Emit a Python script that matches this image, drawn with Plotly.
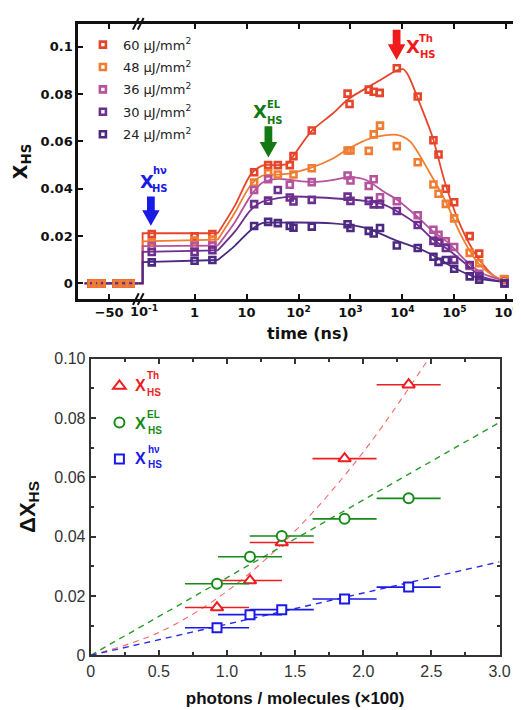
import math
import plotly.graph_objects as go

W, H = 521, 710


def PX(x):
    return x / W


def PY(y):
    return 1 - y / H


# ---------------- top panel data ----------------
series_names = ["60 μJ/mm<sup>2</sup>", "48 μJ/mm<sup>2</sup>", "36 μJ/mm<sup>2</sup>",
                "30 μJ/mm<sup>2</sup>", "24 μJ/mm<sup>2</sup>"]
series_colors = ["#e5452b", "#f07d32", "#b5539c", "#6b2f8e", "#4c2a82"]

t_neg = [-80, -72, -63, -37, -25, -13]
xhs_neg = [0, 0, 0, 0, 0, 0]

t60 = [0.15, 1, 2.2, 14, 26, 40, 68, 80, 180, 880, 960, 2250, 2800, 3650, 7800,
       19700, 39500, 49500, 68500, 99000, 197000, 300000, 920000]
x60 = [0.0209, 0.0199, 0.0209, 0.047, 0.050, 0.050, 0.050, 0.0538, 0.0646, 0.0802,
       0.0758, 0.0819, 0.081, 0.0805, 0.0909, 0.079, 0.0605, 0.0545, 0.040, 0.0343,
       0.020, 0.0126, 0.0016]

t48 = [0.15, 1, 2.2, 14, 26, 40, 80, 180, 880, 1000, 2250, 2800, 3700, 7800, 19700,
       39500, 49500, 68500, 99000, 197000, 300000, 900000]
x48 = [0.0174, 0.0181, 0.0185, 0.0426, 0.0466, 0.046, 0.046, 0.0487, 0.0562, 0.0562,
       0.056, 0.063, 0.0667, 0.058, 0.0512, 0.0418, 0.0379, 0.0336, 0.0275, 0.0129,
       0.0085, 0.0019]

t36 = [0.15, 1, 2.2, 14, 26, 68, 180, 880, 1000, 2250, 2800, 3700, 7800, 19700, 39500,
       49500, 68500, 99000, 197000, 300000, 920000]
x36 = [0.0158, 0.016, 0.016, 0.0395, 0.044, 0.0417, 0.0428, 0.0456, 0.0435, 0.0412,
       0.044, 0.0364, 0.0347, 0.0288, 0.0227, 0.0205, 0.0178, 0.0154, 0.0074, 0.0041,
       0.0003]

t30 = [0.15, 1, 2.2, 14, 26, 40, 68, 80, 180, 880, 1000, 2250, 2800, 3700, 7800, 19700,
       39500, 49500, 68500, 99000, 197000, 300000, 920000]
x30 = [0.0133, 0.0133, 0.014, 0.0335, 0.035, 0.0395, 0.0363, 0.0346, 0.0353, 0.0367,
       0.0349, 0.0349, 0.0334, 0.0334, 0.0306, 0.0247, 0.018, 0.0172, 0.0150, 0.0100,
       0.0078, 0.0030, 0.0]

t24 = [0.15, 1, 2.2, 14, 26, 40, 68, 80, 180, 880, 1000, 2250, 2800, 3700, 7800, 19700,
       39500, 49500, 68500, 99000, 197000, 300000, 920000]
x24 = [0.0089, 0.0096, 0.0099, 0.0243, 0.026, 0.0255, 0.0243, 0.0235, 0.024, 0.025,
       0.0234, 0.0222, 0.0211, 0.0234, 0.016, 0.015, 0.0113, 0.0091, 0.0099, 0.0062,
       0.003, 0.0016, 0.0]

# fitted curves
fit_neg_t = [-92, 0]
fit_neg_v = [0, 0]
fit_step_t = [0.082, 0.1, 0.1, 2.8]
step60 = [0, 0, 0.0212, 0.0212]
step48 = [0, 0, 0.0178, 0.0185]
step36 = [0, 0, 0.0158, 0.016]
step30 = [0, 0, 0.0133, 0.014]
step24 = [0, 0, 0.0090, 0.0099]

fit60_t = [2.8, 6, 12, 20, 40, 60, 80, 180, 450, 930, 3400, 7860, 10400, 12900, 21800,
           37800, 68000, 137000, 286000, 590000, 1.0e6]
fit60_v = [0.0212, 0.033, 0.046, 0.0498, 0.050, 0.0505, 0.054, 0.0645, 0.0717, 0.078,
           0.0854, 0.090, 0.0905, 0.088, 0.0758, 0.062, 0.0416, 0.0235, 0.0107, 0.003, 0.0008]
fit48_t = [2.8, 6, 12, 20, 40, 70, 180, 450, 930, 2500, 7860, 14000, 33000, 68000,
           137000, 286000, 590000, 1.0e6]
fit48_v = [0.0185, 0.030, 0.0415, 0.0455, 0.046, 0.0465, 0.049, 0.0527, 0.057, 0.0614,
           0.0628, 0.060, 0.047, 0.0346, 0.020, 0.0086, 0.003, 0.0008]
fit36_t = [2.8, 6, 12, 20, 40, 70, 180, 450, 930, 2000, 4400, 7860, 18900, 37800, 78700,
           160000, 327000, 937000]
fit36_v = [0.016, 0.026, 0.037, 0.0425, 0.0442, 0.0437, 0.0428, 0.0437, 0.0449, 0.0437,
           0.0387, 0.0354, 0.0284, 0.0222, 0.0169, 0.0099, 0.0045, 0.001]
fit30_t = [2.8, 6, 12, 20, 40, 70, 450, 1860, 4400, 7860, 18900, 37800, 78700, 160000,
           327000, 937000]
fit30_v = [0.014, 0.022, 0.031, 0.0345, 0.036, 0.0367, 0.036, 0.0349, 0.0333, 0.0305,
           0.025, 0.0188, 0.014, 0.0085, 0.003, 0.0006]
fit24_t = [2.8, 6, 12, 20, 40, 450, 1860, 7860, 18900, 37800, 78700, 160000, 327000, 937000]
fit24_v = [0.0099, 0.016, 0.0225, 0.0255, 0.0257, 0.0254, 0.0236, 0.018, 0.0151, 0.012,
           0.0078, 0.0044, 0.0019, 0.0006]

top_ytick_vals = [0, 0.02, 0.04, 0.06, 0.08, 0.1]
top_ytick_text = ["0", "0.02", "0.04", "0.06", "0.08", "0.1"]
neg_tick_vals = [-50]
neg_tick_text = ["−50"]
log_tick_vals = [1, 10, 100, 1000, 10000, 100000, 1000000]
log_tick_text = ["1", "10", "10<sup>2</sup>", "10<sup>3</sup>", "10<sup>4</sup>",
                 "10<sup>5</sup>", "10<sup>6</sup>"]

# ---------------- bottom panel data ----------------
photons = [0.927, 1.169, 1.402, 1.863, 2.333]
photons_err = [0.235, 0.235, 0.235, 0.235, 0.235]
dx_th = [0.0161, 0.0252, 0.038, 0.0663, 0.0912]
dx_el = [0.0241, 0.0332, 0.0402, 0.046, 0.0529]
dx_hv = [0.0093, 0.0137, 0.0154, 0.019, 0.023]

fit_th_x = [0, 0.5, 1.0, 1.5, 2.0, 2.48]
fit_th_y = [0, 0.0077, 0.0216, 0.0419, 0.0685, 0.1]
fit_el_x = [0, 3.0]
fit_el_y = [0, 0.0785]
fit_hv_x = [0, 3.0]
fit_hv_y = [0, 0.0315]

bot_xtick_vals = [0, 0.5, 1.0, 1.5, 2.0, 2.5, 3.0]
bot_xtick_text = ["0", "0.5", "1.0", "1.5", "2.0", "2.5", "3.0"]
bot_ytick_vals = [0, 0.02, 0.04, 0.06, 0.08, 0.10]
bot_ytick_text = ["0", "0.02", "0.04", "0.06", "0.08", "0.10"]

RED = "#ee1d23"
GREEN = "#178a17"
BLUE = "#1a1ae6"

fig = go.Figure()

top_series = [
    (t60, x60, step60, fit60_t, fit60_v),
    (t48, x48, step48, fit48_t, fit48_v),
    (t36, x36, step36, fit36_t, fit36_v),
    (t30, x30, step30, fit30_t, fit30_v),
    (t24, x24, step24, fit24_t, fit24_v),
]

# curves first
for (tt, vv, st, ft, fv), col in zip(top_series, series_colors):
    fig.add_trace(go.Scatter(x=fit_neg_t, y=fit_neg_v, mode="lines", xaxis="x", yaxis="y",
                             line=dict(color=col, width=1.8), showlegend=False, hoverinfo="skip"))
    fig.add_trace(go.Scatter(x=fit_step_t, y=st, mode="lines", xaxis="x2", yaxis="y",
                             line=dict(color=col, width=1.8), showlegend=False, hoverinfo="skip"))
    fig.add_trace(go.Scatter(x=ft, y=fv, mode="lines", xaxis="x2", yaxis="y",
                             line=dict(color=col, width=1.8, shape="spline", smoothing=0.8),
                             showlegend=False, hoverinfo="skip"))

# markers
for i, ((tt, vv, st, ft, fv), col, name) in enumerate(zip(top_series, series_colors, series_names)):
    mk = dict(symbol="square-open", size=6, color=col, line=dict(width=2.6, color=col))
    fig.add_trace(go.Scatter(x=tt, y=vv, mode="markers", xaxis="x2", yaxis="y",
                             marker=mk, name=name, legend="legend", legendgroup=f"g{i}"))

# negative-time markers (48 µJ drawn last, as in the original)
for idx in [4, 3, 2, 0, 1]:
    col = series_colors[idx]
    mk = dict(symbol="square-open", size=6, color=col, line=dict(width=2.6, color=col))
    fig.add_trace(go.Scatter(x=t_neg, y=xhs_neg, mode="markers", xaxis="x", yaxis="y",
                             marker=mk, showlegend=False))

# bottom panel
fig.add_trace(go.Scatter(x=fit_th_x, y=fit_th_y, mode="lines", xaxis="x3", yaxis="y3",
                         line=dict(color="#f06a6a", width=1.1, dash="6px,5px", shape="spline"),
                         showlegend=False, hoverinfo="skip"))
fig.add_trace(go.Scatter(x=fit_el_x, y=fit_el_y, mode="lines", xaxis="x3", yaxis="y3",
                         line=dict(color="#2a9a2a", width=1.4, dash="6px,5px"),
                         showlegend=False, hoverinfo="skip"))
fig.add_trace(go.Scatter(x=fit_hv_x, y=fit_hv_y, mode="lines", xaxis="x3", yaxis="y3",
                         line=dict(color="#2a2ae8", width=1.4, dash="6px,5px"),
                         showlegend=False, hoverinfo="skip"))

bottom = [
    (dx_th, RED, "triangle-up", 11, "g5", "X Th"),
    (dx_el, GREEN, "circle", 10, "g6", "X EL"),
    (dx_hv, BLUE, "square", 9, "g7", "X hν"),
]
for yy, col, sym, sz, grp, nm in bottom:
    fig.add_trace(go.Scatter(
        x=photons, y=yy, mode="markers", xaxis="x3", yaxis="y3",
        marker=dict(symbol=sym, size=sz, color="white", line=dict(width=2, color=col)),
        error_x=dict(type="data", array=photons_err, visible=True, color=col,
                     thickness=1.6, width=0),
        name="\u2009", hovertext=nm, legend="legend2", legendgroup=grp))

tick_top = dict(family="DejaVu Sans", size=13, color="#111", weight="bold")
tick_bot = dict(family="Liberation Sans, Arial", size=16, color="#333")
ax_common_top = dict(showline=True, linewidth=2.5, linecolor="#111", ticks="inside",
                     ticklen=5, tickwidth=2, tickcolor="#111", showgrid=False,
                     zeroline=False, tickfont=tick_top, ticklabeloverflow="allow")
ax_common_bot = dict(showline=True, linewidth=2, linecolor="#333", ticks="inside",
                     ticklen=5, tickwidth=1.5, tickcolor="#333", showgrid=False,
                     zeroline=False, tickfont=tick_bot, mirror="allticks")

fig.update_layout(
    width=W, height=H,
    margin=dict(l=0, r=0, t=0, b=0),
    paper_bgcolor="white", plot_bgcolor="white",
    showlegend=True,
    xaxis=dict(domain=[PX(68), PX(130)], anchor="y", range=[-103.3, 0],
               tickmode="array", tickvals=neg_tick_vals, ticktext=neg_tick_text,
               mirror="ticks", **ax_common_top),
    xaxis2=dict(domain=[PX(130), PX(518)], anchor="y", type="log",
                range=[math.log10(0.0824), 6.168],
                tickmode="array", tickvals=log_tick_vals, ticktext=log_tick_text,
                mirror="ticks", **ax_common_top),
    yaxis=dict(domain=[PY(290), PY(8)], anchor="x", range=[-0.0066, 0.1097],
               tickmode="array", tickvals=top_ytick_vals, ticktext=top_ytick_text,
               title=dict(text="<b>X<sub>HS</sub></b>",
                          font=dict(family="DejaVu Sans", size=19, color="#111"),
                          standoff=8),
               **ax_common_top),
    yaxis4=dict(overlaying="y", anchor="x2", side="right", range=[-0.0066, 0.1097],
                tickmode="array", tickvals=top_ytick_vals, showticklabels=False,
                **{k: v for k, v in ax_common_top.items() if k != "tickfont"}),
    xaxis3=dict(domain=[PX(81), PX(502)], anchor="y3", range=[0, 3],
                tickmode="array", tickvals=bot_xtick_vals, ticktext=bot_xtick_text,
                minor=dict(tickmode="linear", tick0=0, dtick=0.25, ticks="inside",
                           ticklen=3, tickwidth=1.5, tickcolor="#333"),
                title=dict(text="<b>photons / molecules (×100)</b>",
                           font=dict(family="Liberation Sans, Arial", size=17, color="#111"),
                           standoff=14),
                **ax_common_bot),
    yaxis3=dict(domain=[PY(655), PY(351)], anchor="x3", range=[0, 0.1],
                tickmode="array", tickvals=bot_ytick_vals, ticktext=bot_ytick_text,
                minor=dict(tickmode="linear", tick0=0, dtick=0.01, ticks="inside",
                           ticklen=3, tickwidth=1.5, tickcolor="#333"),
                title=dict(text="<b>ΔX<sub>HS</sub></b>",
                           font=dict(family="Liberation Sans, Arial", size=22, color="#111"),
                           standoff=13),
                **ax_common_bot),
    legend=dict(x=PX(73), y=PY(14), xanchor="left", yanchor="top",
                bgcolor="rgba(0,0,0,0)", tracegroupgap=2.5,
                font=dict(family="DejaVu Sans", size=13, color="#222")),
    legend2=dict(x=PX(90), y=PY(361), xanchor="left", yanchor="top",
                 bgcolor="rgba(0,0,0,0)", tracegroupgap=11.5,
                 font=dict(family="Liberation Sans, Arial", size=17, color="#222")),
)


def arrow(xc, ytop, ytip, color, shaft=8, head=18, hl=16):
    pts = [(xc - shaft / 2, ytop), (xc + shaft / 2, ytop), (xc + shaft / 2, ytip - hl),
           (xc + head / 2, ytip - hl), (xc, ytip), (xc - head / 2, ytip - hl),
           (xc - shaft / 2, ytip - hl)]
    path = "M " + " L ".join(f"{PX(x):.5f},{PY(y):.5f}" for x, y in pts) + " Z"
    return dict(type="path", path=path, xref="paper", yref="paper",
                fillcolor=color, line=dict(width=0), layer="above")


def brk(xc, yc):
    out = []
    for dx in (-2.5, 2.5):
        out.append(dict(type="line", xref="paper", yref="paper",
                        x0=PX(xc + dx - 3), y0=PY(yc + 6), x1=PX(xc + dx + 3), y1=PY(yc - 6),
                        line=dict(color="#111", width=2)))
    return out


shapes = [arrow(143, 185, 215, BLUE), arrow(264, 113, 145, "#137a13"),
          arrow(396, 14, 45, "#f21b1b")]
shapes += brk(130, 290) + brk(130, 8)
fig.update_layout(shapes=shapes)

ann = []


def txt(x, y, s, size, color, family="DejaVu Sans", bold=True):
    ann.append(dict(x=PX(x), y=PY(y), xref="paper", yref="paper", text=s,
                    showarrow=False, xanchor="center", yanchor="middle",
                    font=dict(family=family, size=size, color=color,
                              weight="bold" if bold else "normal")))


# top labels
txt(139, 170, "X", 18, BLUE)
txt(152, 158, "hν", 10, BLUE)
txt(152, 177, "HS", 10, BLUE)
txt(255, 98, "X", 18, "#137a13")
txt(270, 91, "EL", 10, "#137a13")
txt(271, 107, "HS", 10, "#137a13")
txt(413, 31, "X", 18, "#f21b1b")
txt(426, 23, "Th", 10, "#f21b1b")
txt(428, 39, "HS", 10, "#f21b1b")
txt(136, 302, "10<sup>-1</sup>", 13, "#111")
txt(305, 325, "time (ns)", 16, "#111")

# bottom legend labels
LS = "Liberation Sans, Arial"
txt(132, 379, "X", 16, RED, LS)
txt(145.5, 368.5, "Th", 10, RED, LS)
txt(146.5, 386, "HS", 10, RED, LS)
txt(132, 418, "X", 16, GREEN, LS)
txt(146, 408.5, "EL", 10, GREEN, LS)
txt(147, 425, "HS", 10, GREEN, LS)
txt(132, 453.5, "X", 16, BLUE, LS)
txt(146, 444, "hν", 10, BLUE, LS)
txt(147, 460, "HS", 10, BLUE, LS)

fig.update_layout(annotations=ann)

fig.write_html("out.html")
